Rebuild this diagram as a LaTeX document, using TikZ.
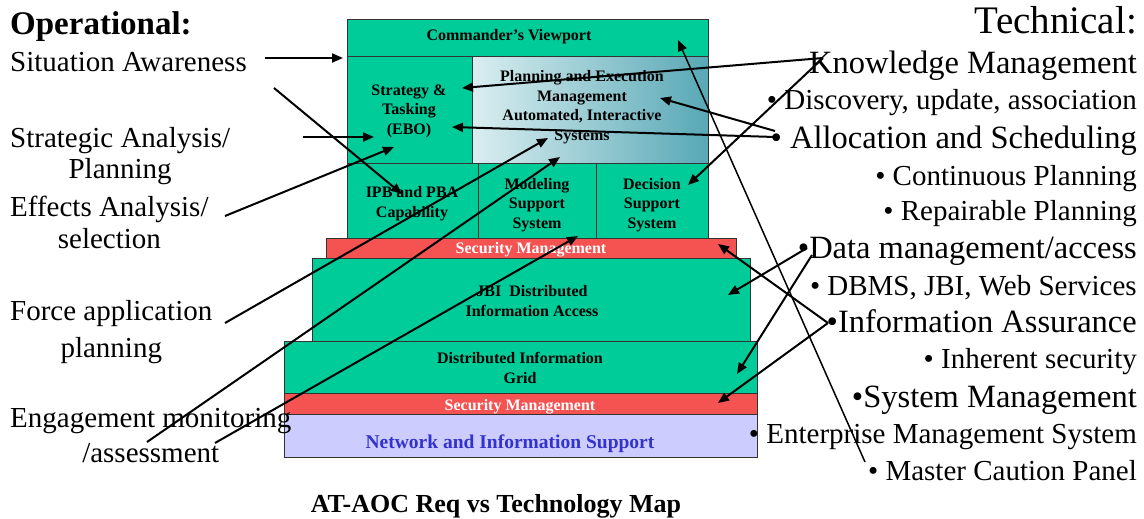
\documentclass[tikz,border=0pt]{standalone}
\usepackage{fontspec}
\setmainfont{Liberation Serif}
\usetikzlibrary{arrows.meta}

\definecolor{stackgreen}{HTML}{00CC99}
\definecolor{secred}{HTML}{F55252}
\definecolor{netlav}{HTML}{CCCCFF}
\definecolor{netblue}{HTML}{3333CC}
\definecolor{pemlight}{RGB}{218,238,240}
\definecolor{pemdark}{RGB}{88,168,182}
\definecolor{edgegray}{HTML}{333333}

\begin{document}
\begin{tikzpicture}[x=1pt,y=-1pt,
  layer/.style={draw=edgegray, line width=0.8pt, fill=stackgreen, inner sep=0pt, anchor=north west},
  secbar/.style={layer, fill=secred},
  boxtext/.style={font=\fontsize{16}{19.5}\selectfont\bfseries, align=center, inner sep=0pt, anchor=base},
  lefttext/.style={font=\fontsize{29}{34}\selectfont, align=center, inner sep=0pt, anchor=base west},
  bigitem/.style={font=\fontsize{32.5}{36}\selectfont, inner sep=0pt, anchor=base east},
  smallitem/.style={font=\fontsize{29}{34}\selectfont, inner sep=0pt, anchor=base east},
  link/.style={line width=2pt, -{Triangle[length=11pt,width=9pt]}},
  thinlink/.style={line width=1.5pt, -{Triangle[length=11pt,width=9pt]}},
]
\useasboundingbox (0,0) rectangle (1144,519);

% ---- the layered stack ----
\node[layer, minimum width=361pt, minimum height=37pt] (cv) at (347,19) {};
\node[layer, minimum width=125pt, minimum height=107pt] (st) at (347,56) {};
\node[layer, minimum width=236pt, minimum height=107pt, left color=pemlight, right color=pemdark] (pem) at (472,56) {};
\node[layer, minimum width=131pt, minimum height=75pt] (ipb) at (347,163) {};
\node[layer, minimum width=118pt, minimum height=75pt] (mss) at (478,163) {};
\node[layer, minimum width=112pt, minimum height=75pt] (dss) at (596,163) {};
\node[secbar, minimum width=410pt, minimum height=20pt] (sec1) at (326,238) {};
\node[layer, minimum width=438pt, minimum height=83pt] (jbi) at (312,258) {};
\node[layer, minimum width=473pt, minimum height=52pt] (dig) at (284,341) {};
\node[secbar, minimum width=473pt, minimum height=21pt] (sec2) at (284,393) {};
\node[layer, fill=netlav, minimum width=473pt, minimum height=43pt] (net) at (284,414) {};

% ---- layer captions (anchored at the baseline of the last line) ----
\node[boxtext] (cvT) at (509,41) {Commander’s Viewport};
\node[boxtext] (stT) at (409,134) {Strategy \&\\Tasking\\(EBO)};
\node[boxtext] (pemT) at (582,140) {Planning and Execution\\Management\\Automated, Interactive\\Systems};
\node[boxtext] (ipbT) at (412,217) {IPB and PBA\\Capability};
\node[boxtext] (mssT) at (537,228) {Modeling\\Support\\System};
\node[boxtext] (dssT) at (652,228) {Decision\\Support\\System};
\node[boxtext, text=white] (sec1T) at (531,253) {Security Management};
\node[boxtext] (jbiT) at (532,316) {JBI\ \ Distributed\\Information Access};
\node[boxtext] (digT) at (520,383) {Distributed Information\\Grid};
\node[boxtext, text=white] (sec2T) at (520,410) {Security Management};
\node[boxtext, text=netblue, font=\fontsize{19.5}{22}\selectfont\bfseries] (netT) at (510,448) {Network and Information Support};

\node[boxtext, font=\fontsize{26}{30}\selectfont\bfseries] (title) at (496,512) {AT-AOC Req vs Technology Map};

% ---- operational requirements ----
\node[lefttext, font=\fontsize{33}{38}\selectfont\bfseries] (opH) at (10,35) {Operational:};
\node[lefttext] (sitaw) at (10,72) {Situation Awareness};
\node[lefttext, font=\fontsize{29}{31}\selectfont] (strat) at (10,178) {Strategic Analysis/\\Planning};
\node[lefttext, font=\fontsize{29}{32}\selectfont] (effect) at (10,248) {Effects Analysis/\\selection};
\node[lefttext, font=\fontsize{29}{37}\selectfont] (force) at (10,357) {Force application\\planning};
\node[lefttext, font=\fontsize{29}{35}\selectfont] (engage) at (10,462) {Engagement monitoring\\/assessment};

% ---- technical capabilities ----
\node[bigitem, font=\fontsize{39}{44}\selectfont] (techH) at (1137,34) {Technical:};
\node[bigitem] (km) at (1137,74) {Knowledge Management};
\node[smallitem] (disc) at (1137,110) {• Discovery, update, association};
\node[bigitem] (alloc) at (1137,148) {• Allocation and Scheduling};
\node[smallitem] (cont) at (1137,185) {• Continuous Planning};
\node[smallitem] (repair) at (1137,220) {• Repairable Planning};
\node[bigitem] (data) at (1137,258) {•Data management/access};
\node[smallitem] (dbms) at (1137,295) {• DBMS, JBI, Web Services};
\node[bigitem] (ia) at (1137,332) {•Information Assurance};
\node[smallitem] (inher) at (1137,368) {• Inherent security};
\node[bigitem] (sysm) at (1137,407) {•System Management};
\node[smallitem] (ems) at (1137,443) {• Enterprise Management System};
\node[smallitem] (mcp) at (1137,480) {• Master Caution Panel};

% ---- connector end points ----
\coordinate (sitawA) at (265,58);
\coordinate (sitawB) at (274,88);
\coordinate (stratO) at (303,137);
\coordinate (effectO) at (225,216);
\coordinate (forceO) at (225,323);
\coordinate (engageA) at (147,442);
\coordinate (engageB) at (215,443);
\coordinate (kmO) at (823,58);
\coordinate (allocA) at (775,131);
\coordinate (allocB) at (775,137);
\coordinate (dataA) at (807,248);
\coordinate (dataB) at (812,255);
\coordinate (iaO) at (828,323);
\coordinate (mcpO) at (865,462);

\coordinate (cvIn) at (343,58);
\coordinate (cvUp) at (678,40);
\coordinate (stLeft) at (374,137);
\coordinate (stLow) at (394,147);
\coordinate (stMid) at (452,127);
\coordinate (stTop) at (462,88);
\coordinate (pemA) at (548,138);
\coordinate (pemB) at (560,157);
\coordinate (pemR) at (660,98);
\coordinate (ipbIn) at (402,194);
\coordinate (mssIn) at (578,236);
\coordinate (dssIn) at (688,185);
\coordinate (sec1In) at (718,244);
\coordinate (jbiIn) at (728,295);
\coordinate (digIn) at (737,374);
\coordinate (sec2In) at (718,403);

% ---- connectors ----
\draw[link] (sitawA) -- (cvIn);
\draw[link] (sitawB) -- (ipbIn);
\draw[link] (stratO) -- (stLeft);
\draw[link] (effectO) -- (stLow);
\draw[link] (forceO) -- (pemA);
\draw[link] (engageA) -- (pemB);
\draw[link] (engageB) -- (mssIn);
\draw[link] (kmO) -- (stTop);
\draw[link] (kmO) -- (dssIn);
\draw[link] (allocA) -- (pemR);
\draw[link] (allocB) -- (stMid);
\draw[link] (dataA) -- (jbiIn);
\draw[link] (dataB) -- (digIn);
\draw[link] (iaO) -- (sec1In);
\draw[link] (iaO) -- (sec2In);
\draw[thinlink] (mcpO) -- (cvUp);
\end{tikzpicture}
\end{document}
